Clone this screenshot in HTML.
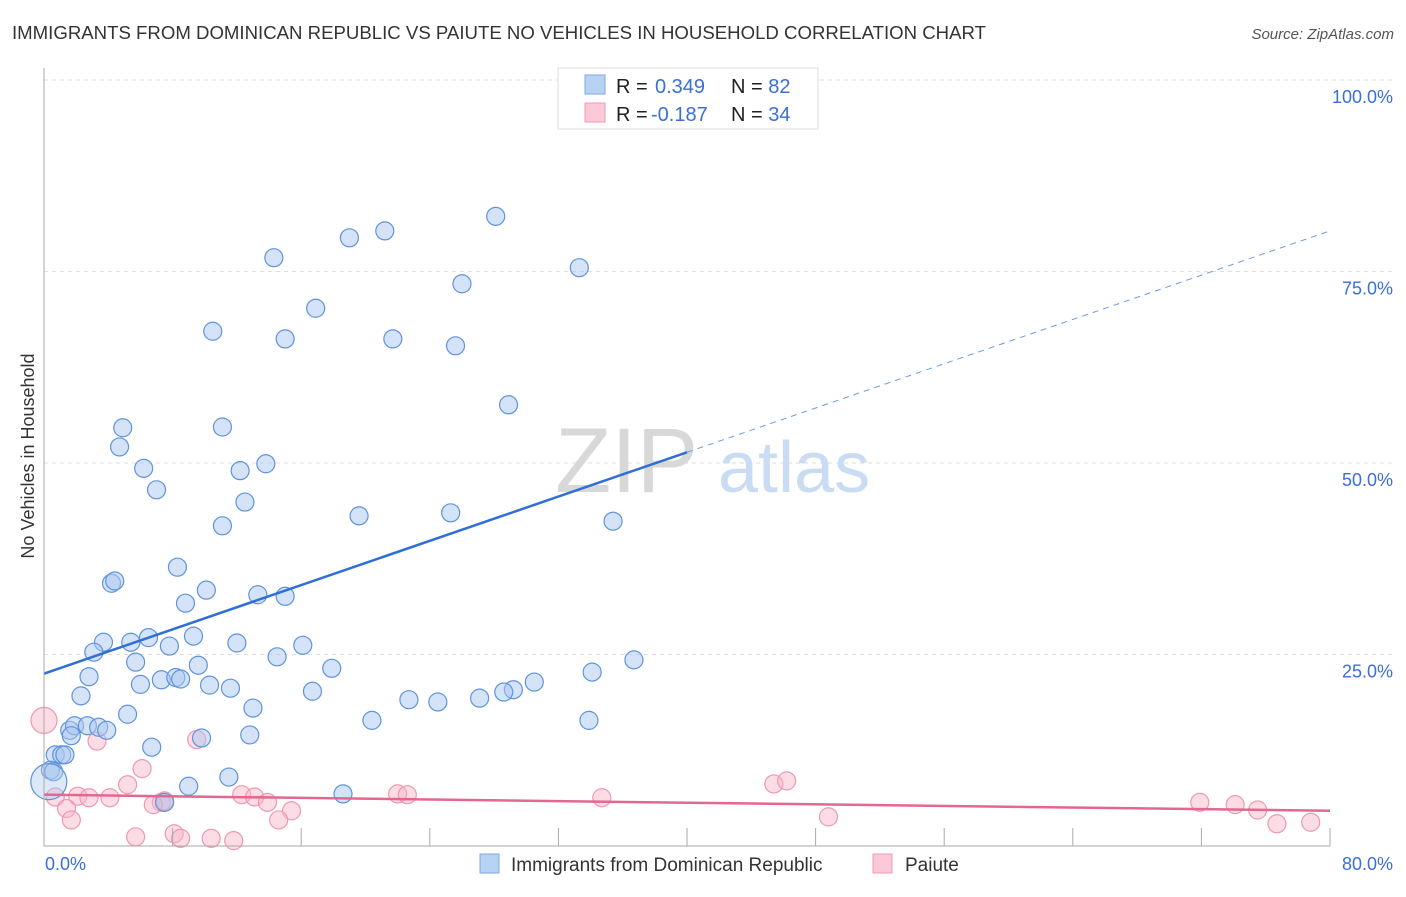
<!DOCTYPE html>
<html><head><meta charset="utf-8">
<style>
body{margin:0;background:#fff;font-family:"Liberation Sans",sans-serif;}
svg text{font-family:"Liberation Sans",sans-serif;}
</style></head>
<body>
<svg width="1406" height="892" viewBox="0 0 1406 892">
<text x="12" y="39" font-size="18" fill="#333" textLength="974" lengthAdjust="spacingAndGlyphs">IMMIGRANTS FROM DOMINICAN REPUBLIC VS PAIUTE NO VEHICLES IN HOUSEHOLD CORRELATION CHART</text>
<text x="1394" y="39" font-size="15" fill="#555" font-style="italic" text-anchor="end">Source: ZipAtlas.com</text>
<text x="0" y="0" font-size="18" fill="#333" transform="translate(34,456) rotate(-90)" text-anchor="middle">No Vehicles in Household</text>
<g id="grid"></g>
<g>
<text x="555" y="492" font-size="92" fill="#d8d8d8" font-family="Liberation Serif">ZIP</text>
<text x="718" y="492" font-size="72" fill="#c9dcf3">atlas</text>
</g>
<g id="pts"></g>
<g id="lines"></g>
<line x1="44" y1="68" x2="44" y2="846" stroke="#aaa"/>
<line x1="44" y1="846" x2="1330" y2="846" stroke="#aaa"/>
<g id="xticks"></g>
<g id="ylabels"></g>
<text x="45" y="870" font-size="18" fill="#3a6fd8">0.0%</text>
<text x="1393" y="870" font-size="18" fill="#3a6fd8" text-anchor="end">80.0%</text>
<g>
<rect x="558" y="68" width="260" height="61" fill="#fff" stroke="#ddd"/>
<rect x="585" y="75" width="20" height="19" fill="#b8d2f3" stroke="#7fa8e6"/>
<rect x="585" y="103" width="20" height="19" fill="#fbc9d7" stroke="#f09ab2"/>
<text x="616" y="93" font-size="20" fill="#222">R = <tspan fill="#3a6fd8" x="655">0.349</tspan><tspan x="731">N = </tspan><tspan fill="#3a6fd8">82</tspan></text>
<text x="616" y="121" font-size="20" fill="#222">R = <tspan fill="#3a6fd8" x="651">-0.187</tspan><tspan x="731">N = </tspan><tspan fill="#3a6fd8">34</tspan></text>
</g>
<g>
<rect x="480" y="854" width="19" height="19" fill="#b8d2f3" stroke="#7fa8e6"/>
<text x="511" y="871" font-size="19" fill="#333">Immigrants from Dominican Republic</text>
<rect x="873" y="854" width="19" height="19" fill="#fbc9d7" stroke="#f09ab2"/>
<text x="905" y="871" font-size="19" fill="#333">Paiute</text>
</g>
</svg>
<script>
const yTicks=[25,50,75,100];
const yTickLabels=["25.0%","50.0%","75.0%","100.0%"];
const xTickVals=[0,8,16,24,32,40,48,56,64,72,80];
const blueX=[28.1,19,21.2,14.3,33.3,26,16.9,10.5,15,21.7,25.6,28.9,4.9,11.1,4.7,13.8,6.2,12.2,7,12.5,11.1,19.6,25.3,35.4,8.3,4.2,4.4,10.1,8.8,13.3,15,3.7,5.4,6.5,7.8,9.3,12,16.1,3.1,5.7,9.6,14.5,36.7,2.8,6,7.3,8.2,8.5,10.3,11.6,17.9,34.1,30.5,2.3,16.7,29.2,28.6,27.1,22.7,24.5,5.2,13,20.4,33.9,1.6,1.9,2.7,3.4,3.9,1.7,6.7,9.8,12.8,0.7,1.1,1.3,0.4,0.6,11.5,9,7.5,18.6];
const blueY=[82.2,79.4,80.3,76.8,75.5,73.4,70.2,67.2,66.2,66.2,65.3,57.6,54.6,54.7,52.1,49.9,49.3,49,46.5,44.9,41.8,43.1,43.5,42.4,36.4,34.3,34.6,33.4,31.7,32.8,32.6,26.6,26.6,27.2,26.1,27.4,26.5,26.2,25.3,24,23.6,24.7,24.3,22.1,21.1,21.7,22,21.8,21,20.6,23.2,22.7,21.4,19.6,20.2,20.4,20.1,19.3,19.1,18.8,17.2,18,16.4,16.4,15.1,15.7,15.7,15.5,15.1,14.4,12.9,14.1,14.5,11.9,11.9,11.9,9.9,9.7,9,7.8,5.7,6.8];
const pinkX=[0,3.3,9.5,6.1,5.2,0.7,2.1,2.8,4.1,7.3,7.5,12.3,13.1,13.9,15.4,14.6,22,22.6,34.7,45.4,46.2,1.4,1.7,5.7,8.1,8.5,10.4,11.8,48.8,71.9,74.1,75.5,76.7,78.8,6.8];
const pinkY=[16.4,13.7,13.9,10.1,8,6.4,6.5,6.3,6.3,5.7,5.9,6.7,6.4,5.7,4.6,3.4,6.8,6.7,6.3,8.1,8.5,4.9,3.4,1.2,1.6,1,1,0.7,3.8,5.7,5.4,4.7,2.9,3.1,5.4];
const blueTrend=[22.5,80.3];
const pinkTrend=[6.7,4.6];
const NS="http://www.w3.org/2000/svg";
const X0=44,X1=1330,Y0=846,Y100=80;
function sx(v){return X0+(X1-X0)*v/80;}
function sy(v){return Y0-(Y0-Y100)*v/100;}
function mk(tag,attrs,parent){const e=document.createElementNS(NS,tag);for(const k in attrs)e.setAttribute(k,attrs[k]);parent.appendChild(e);return e;}
const grid=document.getElementById('grid'),yl=document.getElementById('ylabels');
yTicks.forEach((t,i)=>{
 const l=mk('line',{x1:X0,x2:1394,y1:sy(t),y2:sy(t),stroke:'#ddd','stroke-dasharray':'4,4'},grid);
 
 
 const tx=mk('text',{x:1393,y:sy(t)+23,'font-size':18,fill:'#3a6fd8','text-anchor':'end'},yl);
 tx.textContent=yTickLabels[i];
 
 
});
const xt=document.getElementById('xticks');
xTickVals.forEach(v=>{
 const l=mk('line',{x1:sx(v),x2:sx(v),y1:828,y2:846,stroke:'#aaa'},xt);
 
 
});
const pts=document.getElementById('pts');
pinkX.forEach((x,i)=>{
 const c=mk('circle',{cx:sx(x),cy:sy(pinkY[i]),r:i==0?13:9,fill:'rgba(248,180,200,0.45)',stroke:'#ee98b2','stroke-width':1.2},pts);
 
 
});
blueX.forEach((x,i)=>{
 const c=mk('circle',{cx:sx(x),cy:sy(blueY[i]),r:9,fill:'rgba(170,200,240,0.5)',stroke:'#5f93dc','stroke-width':1.2},pts);
 
 
});
const big=mk('circle',{cx:sx(0.3),cy:sy(8.4),r:18,fill:'rgba(170,200,240,0.4)',stroke:'#5f93dc','stroke-width':1.2},pts);


const ln=document.getElementById('lines');
const bAt=v=>blueTrend[0]+(blueTrend[1]-blueTrend[0])*v/80;
const b1=mk('line',{x1:sx(0),y1:sy(bAt(0)),x2:sx(40),y2:sy(bAt(40)),stroke:'#2f6fd6','stroke-width':2.5},ln);


const b2=mk('line',{x1:sx(40),y1:sy(bAt(40)),x2:sx(80),y2:sy(bAt(80)),stroke:'#6e9be0','stroke-width':1,'stroke-dasharray':'6,5'},ln);


const p1=mk('line',{x1:sx(0),y1:sy(pinkTrend[0]),x2:sx(80),y2:sy(pinkTrend[1]),stroke:'#e4678f','stroke-width':2.5},ln);


</script>
</body></html>
